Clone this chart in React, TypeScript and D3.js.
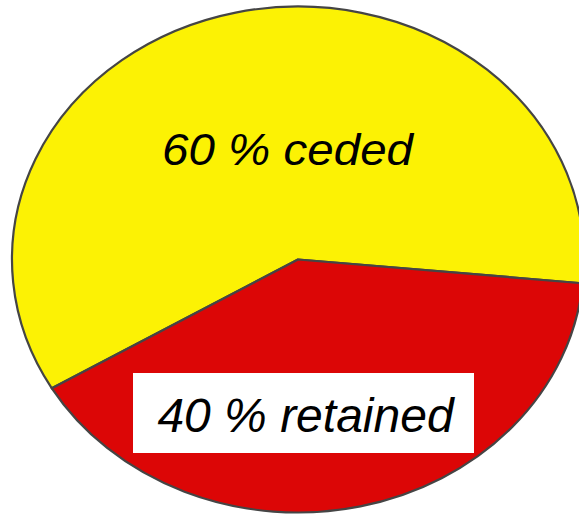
import React from "react";
import * as d3 from "d3";

const categories = ["ceded", "retained"];
const values = [60, 40];
const labels = ["60 % ceded", "40 % retained"];
const colors = ["#FCF204", "#DC0606"];

const W = 579;
const H = 514;
const cx = 298;
const cy = 259.5;
const rx = 286;
const ry = 253;

export default function App() {
  const start = (239.4 * Math.PI) / 180;
  const pie = d3
    .pie<number>()
    .sort(null)
    .value((d) => d)
    .startAngle(start)
    .endAngle(start + 2 * Math.PI);
  const arcs = pie(values);
  const arc = d3.arc<d3.PieArcDatum<number>>().innerRadius(0).outerRadius(rx);

  return (
    <svg
      width={W}
      height={H}
      style={{ position: "absolute", left: 0, top: 0, background: "#fff" }}
    >
      <g transform={`translate(${cx},${cy}) scale(1,${ry / rx})`}>
        {arcs.map((a, i) => (
          <path
            key={categories[i]}
            d={arc(a) || ""}
            fill={colors[i]}
            stroke="#454545"
            strokeWidth={2.2}
            strokeLinejoin="round"
            vectorEffect="non-scaling-stroke"
          />
        ))}
      </g>
      <text
        x={287.5}
        y={165}
        textAnchor="middle"
        fontFamily="'Liberation Sans', Arial, sans-serif"
        fontStyle="italic"
        fontSize={45}
        textLength={251}
        lengthAdjust="spacingAndGlyphs"
        fill="#000"
      >
        {labels[0]}
      </text>
      <rect x={133} y={373} width={341} height={80} fill="#fff" />
      <text
        x={305.5}
        y={432}
        textAnchor="middle"
        fontFamily="'Liberation Sans', Arial, sans-serif"
        fontStyle="italic"
        fontSize={48}
        fill="#000"
      >
        {labels[1]}
      </text>
    </svg>
  );
}
